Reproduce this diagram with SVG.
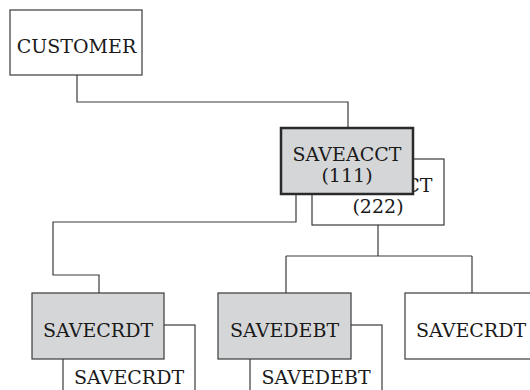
<svg xmlns="http://www.w3.org/2000/svg" width="530" height="390" viewBox="0 0 530 390">
<style>
.box{fill:#ffffff;stroke:#3a3a3a;stroke-width:1.2}
.sel{fill:#d5d6d8;stroke:#3a3a3a;stroke-width:1.2}
.main{fill:#d5d6d8;stroke:#2a2a2a;stroke-width:2.5}
.t{font-family:"DejaVu Serif","Liberation Serif",serif;font-size:19px;fill:#1a1a1a;text-anchor:middle}
.c{fill:none;stroke:#3a3a3a;stroke-width:1.2}
</style>
<rect width="530" height="390" fill="#ffffff"/>
<g id="connectors">
<path class="c" d="M77,75 V102 H348 V128"/>
<path class="c" d="M296,194 V222 H53 V275 H99 V293"/>
<path class="c" d="M378,225 V256"/>
<path class="c" d="M286,256 H472"/>
<path class="c" d="M286,256 V293"/>
<path class="c" d="M472,256 V293"/>
</g>
<g id="customer">
<rect class="box" x="10" y="10" width="132" height="65"/>
<text class="t" x="76.5" y="53">CUSTOMER</text>
</g>
<g id="saveacct-222">
<rect class="box" x="312" y="159" width="132" height="66"/>
<text class="t" x="378" y="192">SAVEACCT</text>
<text class="t" x="378" y="213">(222)</text>
</g>
<g id="saveacct-111">
<rect class="main" x="281" y="128" width="132" height="66"/>
<text class="t" x="347" y="161">SAVEACCT</text>
<text class="t" x="347" y="182">(111)</text>
</g>
<g id="savecrdt-back">
<rect class="box" x="63" y="325" width="132" height="80"/>
<text class="t" x="129" y="384">SAVECRDT</text>
</g>
<g id="savecrdt-front">
<rect class="sel" x="32" y="293" width="132" height="66"/>
<text class="t" x="98" y="337">SAVECRDT</text>
</g>
<g id="savedebt-back">
<rect class="box" x="250" y="325" width="132" height="80"/>
<text class="t" x="316" y="384">SAVEDEBT</text>
</g>
<g id="savedebt-front">
<rect class="sel" x="218" y="293" width="133" height="66"/>
<text class="t" x="284.5" y="337">SAVEDEBT</text>
</g>
<g id="savecrdt-right">
<rect class="box" x="405" y="293" width="132" height="66"/>
<text class="t" x="471" y="337">SAVECRDT</text>
</g>
</svg>
